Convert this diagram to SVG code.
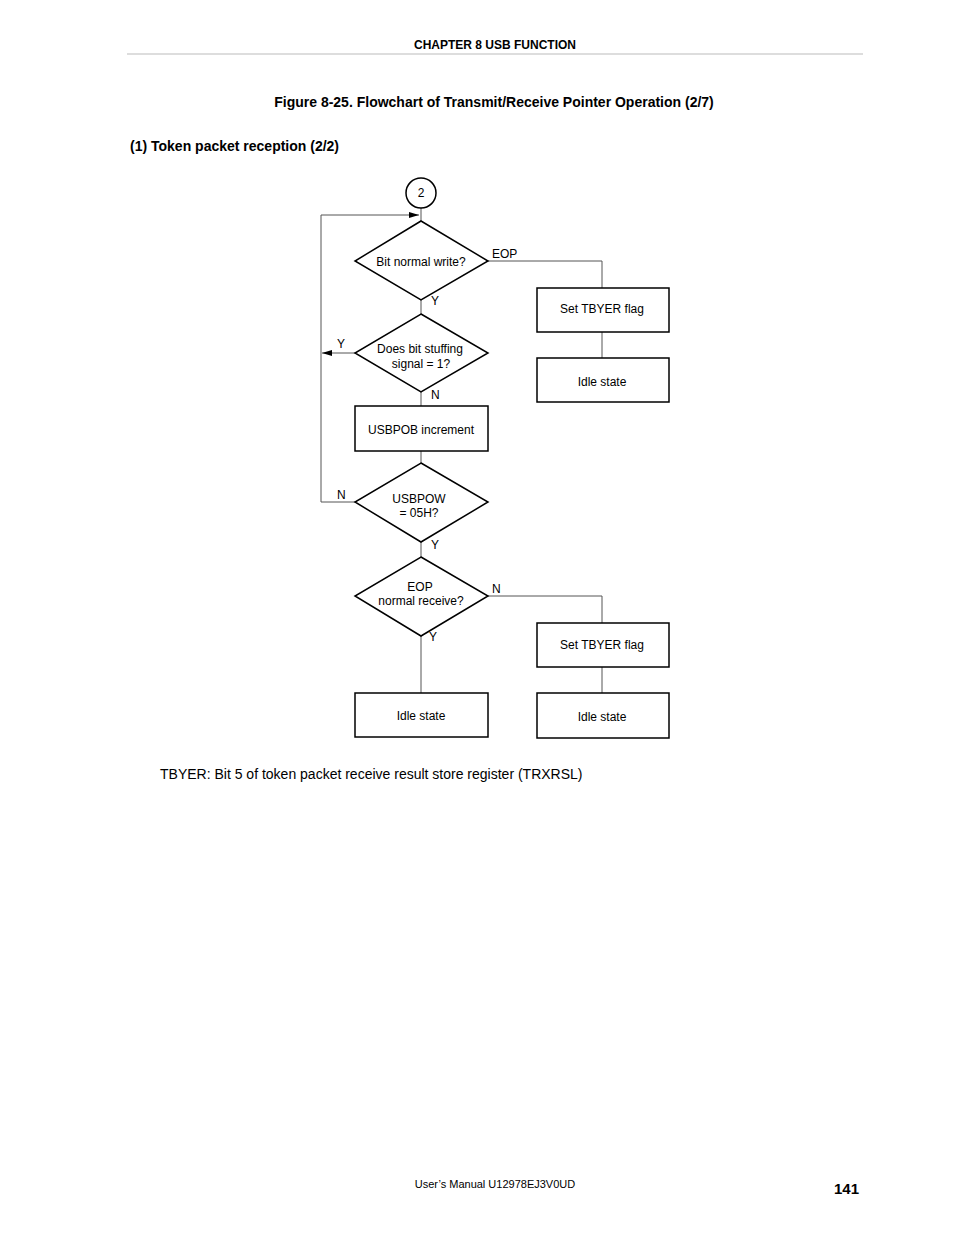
<svg xmlns="http://www.w3.org/2000/svg" width="954" height="1235" viewBox="0 0 954 1235">
<style>
text{font-family:"Liberation Sans",Arial,sans-serif;fill:#000}
.b{font-weight:bold}
.s{font-size:12px}
.n{fill:#fff;stroke:#000;stroke-width:1.5}
.c{fill:none;stroke:#555;stroke-width:1}
</style>
<defs><marker id="a" markerWidth="10" markerHeight="6" refX="10" refY="3" orient="auto" markerUnits="userSpaceOnUse"><path d="M0,0L10,3L0,6z" fill="#000"/></marker></defs>
<rect width="954" height="1235" fill="#fff"/>
<text class="b" x="495" y="49" font-size="12" text-anchor="middle">CHAPTER  8    USB  FUNCTION</text>
<line x1="127" y1="54" x2="863" y2="54" stroke="#bbb" stroke-width="1"/>
<text class="b" x="494" y="107" font-size="14" text-anchor="middle">Figure 8-25.  Flowchart of Transmit/Receive Pointer Operation (2/7)</text>
<text class="b" x="130" y="151" font-size="14">(1)   Token packet reception (2/2)</text>
<g id="connectors">
<path class="c" d="M421,208V221"/>
<path class="c" d="M321,502V215H419" marker-end="url(#a)"/>
<path class="c" d="M488,261H602V288"/>
<path class="c" d="M602,332V358"/>
<path class="c" d="M421,300V314"/>
<path class="c" d="M355,353H322" marker-end="url(#a)"/>
<path class="c" d="M421,392V406"/>
<path class="c" d="M421,451V463"/>
<path class="c" d="M355,502H321"/>
<path class="c" d="M421,542V557"/>
<path class="c" d="M488,596H602V623"/>
<path class="c" d="M602,667V693"/>
<path class="c" d="M421,636V693" stroke="#bbb"/>
</g>
<g id="start"><circle class="n" cx="421" cy="193" r="15"/><text class="s" x="421" y="197" text-anchor="middle">2</text></g>
<g id="d1"><path class="n" d="M421,221L488,261L421,300L355,261z"/><text class="s" x="421" y="266" text-anchor="middle">Bit normal write?</text></g>
<g id="d2"><path class="n" d="M421,314L488,353L421,392L355,353z"/><text class="s" x="420" y="353" text-anchor="middle">Does bit stuffing</text><text class="s" x="421" y="368" text-anchor="middle">signal = 1?</text></g>
<g id="b1"><rect class="n" x="355" y="406" width="133" height="45"/><text class="s" x="421" y="434" text-anchor="middle">USBPOB increment</text></g>
<g id="d3"><path class="n" d="M421,463L488,502L421,542L355,502z"/><text class="s" x="419" y="503" text-anchor="middle">USBPOW</text><text class="s" x="419" y="517" text-anchor="middle">= 05H?</text></g>
<g id="d4"><path class="n" d="M421,557L488,596L421,636L355,596z"/><text class="s" x="420" y="591" text-anchor="middle">EOP</text><text class="s" x="421" y="605" text-anchor="middle">normal receive?</text></g>
<g id="r1"><rect class="n" x="537" y="288" width="132" height="44"/><text class="s" x="602" y="313" text-anchor="middle">Set TBYER flag</text></g>
<g id="r2"><rect class="n" x="537" y="358" width="132" height="44"/><text class="s" x="602" y="386" text-anchor="middle">Idle state</text></g>
<g id="r3"><rect class="n" x="537" y="623" width="132" height="44"/><text class="s" x="602" y="649" text-anchor="middle">Set TBYER flag</text></g>
<g id="r4"><rect class="n" x="537" y="693" width="132" height="45"/><text class="s" x="602" y="721" text-anchor="middle">Idle state</text></g>
<g id="r5"><rect class="n" x="355" y="693" width="133" height="44"/><text class="s" x="421" y="720" text-anchor="middle">Idle state</text></g>
<g font-size="12">
<text x="492" y="258">EOP</text><text x="431" y="305">Y</text><text x="337" y="348">Y</text><text x="431" y="399">N</text>
<text x="337" y="499">N</text><text x="431" y="549">Y</text><text x="492" y="593">N</text><text x="429" y="641">Y</text>
</g>
<text x="160" y="779" font-size="14">TBYER:  Bit 5 of token packet receive result store register (TRXRSL)</text>
<text x="495" y="1188" font-size="11" text-anchor="middle">User’s Manual  U12978EJ3V0UD</text>
<text class="b" x="859" y="1194" font-size="15" text-anchor="end">141</text>
</svg>
